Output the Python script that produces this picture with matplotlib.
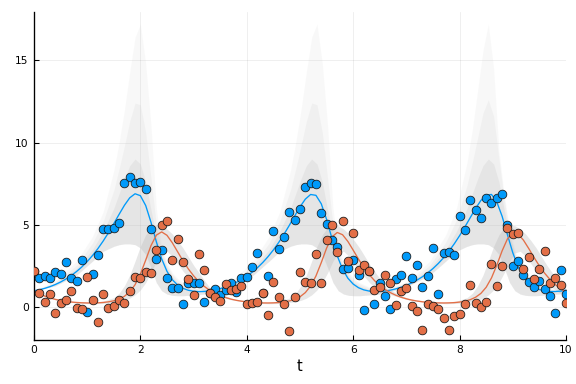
import numpy as np
import matplotlib
matplotlib.use("Agg")
import matplotlib.pyplot as plt

# observation times 0:0.1:10
t_obs = np.round(np.arange(101) * 0.1, 1)

# noisy observations (prey = blue, predator = orange)
prey_obs = [2.2, 1.75, 1.88, 1.79, 2.17, 2.04, 2.77, 1.79, 1.57, 2.89,
            -0.30, 2.0, 3.2, 4.75, 4.75, 4.79, 5.1, 7.53, 7.89, 7.57,
            7.63, 7.18, 4.77, 2.93, 3.48, 1.79, 1.19, 1.19, 0.21, 1.46,
            1.45, 1.50, 0.32, 0.85, 1.1, 0.75, 1.05, 1.46, 0.95, 1.78,
            1.86, 2.43, 3.28, 0.89, 1.88, 4.65, 3.56, 4.25, 5.79, 5.30,
            5.99, 7.32, 7.57, 7.48, 5.71, 5.04, 4.09, 3.65, 2.31, 2.37,
            2.85, 1.97, -0.16, 2.22, 0.21, 1.50, 0.71, -0.08, 1.70, 1.96,
            3.13, 1.78, 2.59, 1.25, 1.90, 3.62, 0.81, 3.32, 3.35, 3.19,
            5.56, 4.71, 6.52, 5.91, 5.42, 6.62, 6.31, 6.63, 6.86, 5.0,
            2.53, 2.83, 1.94, 1.56, 1.21, 1.61, 1.11, 0.71, -0.37, 2.26,
            0.79]
pred_obs = [2.20, 0.85, 0.30, 0.81, -0.36, 0.28, 0.45, 0.96, -0.02, -0.10,
            1.85, 0.45, -0.91, 0.79, -0.02, 0.08, 0.45, 0.24, 0.97, 1.85,
            1.75, 2.11, 2.06, 3.48, 5.0, 5.26, 2.84, 4.16, 2.72, 1.69,
            0.73, 3.24, 2.24, 0.85, 0.61, 0.38, 1.41, 1.05, 1.09, 1.29,
            0.17, 0.24, 0.31, 0.89, -0.48, 1.53, 0.65, 0.18, -1.42, 0.65,
            2.16, 1.51, 1.45, 3.25, 1.46, 4.07, 4.98, 3.34, 5.24, 2.83,
            4.51, 2.26, 2.55, 2.22, 1.05, 1.21, 1.94, 1.46, 0.12, 0.97,
            1.19, 0.08, -0.20, -1.36, 0.20, 0.08, -0.12, -0.63, -1.40, -0.51,
            -0.39, 0.20, 1.35, 0.24, 0.02, 0.30, 2.65, 1.29, 2.53, 4.83,
            4.45, 4.49, 2.30, 3.03, 1.70, 2.30, 3.44, 1.50, 1.80, 1.33,
            0.24]

# simulated trajectories
prey_true = [1.000, 1.061, 1.144, 1.249, 1.378, 1.531, 1.712, 1.924, 2.169, 2.450,
             2.773, 3.140, 3.554, 4.017, 4.526, 5.074, 5.642, 6.190, 6.646, 6.892,
             6.775, 6.176, 5.152, 3.975, 2.940, 2.178, 1.671, 1.348, 1.149, 1.032,
             0.971, 0.949, 0.958, 0.992,
             1.050, 1.129, 1.230, 1.355, 1.503, 1.679, 1.886, 2.125, 2.399, 2.715,
             3.074, 3.479, 3.934, 4.434, 4.975, 5.540, 6.091, 6.564, 6.848, 6.796,
             6.284, 5.336, 4.187, 3.126, 2.315, 1.762, 1.406, 1.185, 1.053, 0.982,
             0.953, 0.956, 0.986,
             1.039, 1.114, 1.211, 1.332, 1.476, 1.647, 1.848, 2.081, 2.349, 2.657,
             3.008, 3.405, 3.850, 4.343, 4.877, 5.438, 5.993, 6.482, 6.803, 6.850,
             6.392, 5.521, 4.399, 3.313, 2.452, 1.854, 1.464, 1.221, 1.074, 0.993,
             0.957, 0.955, 0.980, 1.028]
pred_true = [1.000, 0.821, 0.679, 0.567, 0.479, 0.410, 0.357, 0.317, 0.288, 0.269,
             0.259, 0.258, 0.267, 0.288, 0.327, 0.392, 0.496, 0.664, 0.936, 1.368,
             2.014, 2.862, 3.746, 4.380, 4.575, 4.368, 3.915, 3.369, 2.825, 2.333,
             1.910, 1.557, 1.268, 1.036,
             0.853, 0.705, 0.587, 0.495, 0.422, 0.367, 0.324, 0.293, 0.272, 0.261,
             0.258, 0.265, 0.284, 0.320, 0.380, 0.477, 0.634, 0.887, 1.290, 1.898,
             2.709, 3.587, 4.266, 4.540, 4.405, 3.997, 3.467, 2.923, 2.422, 1.986,
             1.621, 1.320, 1.078,
             0.885, 0.730, 0.607, 0.511, 0.435, 0.376, 0.331, 0.298, 0.276, 0.263,
             0.258, 0.264, 0.280, 0.313, 0.369, 0.459, 0.604, 0.838, 1.212, 1.781,
             2.557, 3.428, 4.152, 4.505, 4.443, 4.078, 3.566, 3.021, 2.510, 2.062,
             1.684, 1.372, 1.120, 0.917]

# spread of the posterior sample trajectories (grey fan)
band_t = [0.0, 0.4, 0.8, 1.1, 1.3, 1.5, 1.6, 1.7, 1.8, 1.9, 2.0, 2.1, 2.2, 2.3, 2.4, 2.5, 2.6, 2.7, 2.8, 3.0, 3.2,
          3.32, 3.72, 4.12, 4.42, 4.62, 4.82, 4.92, 5.02, 5.12, 5.22, 5.32, 5.42, 5.52, 5.62, 5.72, 5.82, 5.92, 6.02, 6.12, 6.32, 6.52,
          6.64, 7.04, 7.44, 7.74, 7.94, 8.14, 8.24, 8.34, 8.44, 8.54, 8.64, 8.74, 8.84, 8.94, 9.04, 9.14, 9.24, 9.34, 9.44, 9.64, 9.84, 10.0]
prey_lo = [1.00, 1.30, 1.95, 2.80, 3.40, 3.70, 3.80, 3.85, 3.85, 3.80, 3.60, 3.20, 2.40, 1.50, 1.00, 0.80, 0.72, 0.70, 0.70, 0.75, 0.80,
           0.88, 1.30, 1.95, 2.80, 3.40, 3.70, 3.80, 3.85, 3.85, 3.80, 3.60, 3.20, 2.40, 1.50, 1.00, 0.80, 0.72, 0.70, 0.70, 0.75, 0.80,
           0.88, 1.30, 1.95, 2.80, 3.40, 3.70, 3.80, 3.85, 3.85, 3.80, 3.60, 3.20, 2.40, 1.50, 1.00, 0.80, 0.72, 0.70, 0.70, 0.75, 0.80, 0.85]
prey_mid = [1.00, 1.45, 2.35, 3.50, 4.60, 6.00, 6.90, 7.80, 8.60, 9.00, 8.70, 7.60, 5.90, 4.30, 3.20, 2.40, 1.85, 1.50, 1.30, 1.05, 0.98,
            1.02, 1.45, 2.35, 3.50, 4.60, 6.00, 6.90, 7.80, 8.60, 9.00, 8.70, 7.60, 5.90, 4.30, 3.20, 2.40, 1.85, 1.50, 1.30, 1.05, 0.98,
            1.02, 1.45, 2.35, 3.50, 4.60, 6.00, 6.90, 7.80, 8.60, 9.00, 8.70, 7.60, 5.90, 4.30, 3.20, 2.40, 1.85, 1.50, 1.30, 1.05, 0.98, 1.05]
prey_q = [1.00, 1.52, 2.55, 3.90, 5.20, 7.10, 8.40, 9.80, 11.3, 12.4, 12.3, 10.6, 7.80, 5.00, 3.40, 2.55, 2.00, 1.65, 1.42, 1.15, 1.05,
          1.10, 1.52, 2.55, 3.90, 5.20, 7.10, 8.40, 9.80, 11.3, 12.4, 12.3, 10.6, 7.80, 5.00, 3.40, 2.55, 2.00, 1.65, 1.42, 1.15, 1.05,
          1.10, 1.52, 2.55, 3.95, 5.30, 7.40, 8.80, 10.3, 11.8, 12.6, 11.6, 9.00, 6.50, 4.50, 3.30, 2.55, 2.00, 1.65, 1.42, 1.15, 1.05, 1.15]
prey_hi = [1.00, 1.60, 2.80, 4.30, 5.80, 8.30, 10.0, 12.0, 14.3, 16.4, 17.2, 14.8, 11.0, 6.00, 3.60, 2.70, 2.10, 1.75, 1.50, 1.20, 1.10,
           1.15, 1.60, 2.80, 4.30, 5.80, 8.30, 10.0, 12.0, 14.3, 16.4, 17.2, 14.8, 11.0, 6.00, 3.60, 2.70, 2.10, 1.75, 1.50, 1.20, 1.10,
           1.15, 1.60, 2.80, 4.40, 6.00, 8.80, 10.8, 13.2, 15.6, 17.2, 14.5, 9.50, 6.80, 4.80, 3.50, 2.60, 2.05, 1.70, 1.50, 1.20, 1.10, 1.25]
pred_lo = [1.00, 0.44, 0.25, 0.21, 0.23, 0.29, 0.34, 0.42, 0.55, 0.75, 1.05, 1.50, 2.10, 2.80, 3.30, 3.40, 3.10, 2.65, 2.20, 1.45, 0.95,
           0.82, 0.44, 0.25, 0.21, 0.23, 0.29, 0.34, 0.42, 0.55, 0.75, 1.05, 1.50, 2.10, 2.80, 3.30, 3.40, 3.10, 2.65, 2.20, 1.45, 0.95,
           0.82, 0.44, 0.25, 0.21, 0.23, 0.29, 0.34, 0.42, 0.55, 0.75, 1.05, 1.50, 2.10, 2.80, 3.30, 3.40, 3.10, 2.65, 2.20, 1.45, 0.95, 0.72]
pred_hi = [1.00, 0.52, 0.33, 0.31, 0.37, 0.58, 0.85, 1.30, 1.95, 2.80, 3.70, 4.40, 4.85, 5.00, 4.95, 4.75, 4.45, 4.05, 3.60, 2.55, 1.65,
           1.12, 0.52, 0.33, 0.31, 0.37, 0.58, 0.85, 1.30, 1.95, 2.80, 3.70, 4.40, 4.85, 5.00, 4.95, 4.75, 4.45, 4.05, 3.60, 2.55, 1.65,
           1.12, 0.52, 0.33, 0.31, 0.37, 0.58, 0.85, 1.30, 1.95, 2.80, 3.70, 4.40, 4.85, 5.00, 4.95, 4.75, 4.45, 4.05, 3.60, 2.55, 1.65, 1.10]

BLUE = "#009AFA"
ORANGE = "#E36F47"
GREY = "#BBBBBB"

fig = plt.figure(figsize=(6, 4), dpi=96)
ax = fig.add_axes([0.059, 0.1146, 0.9236, 0.8541])

# grey fan of sample trajectories
ax.fill_between(band_t, prey_lo, prey_hi, color=GREY, alpha=0.09, lw=0)
ax.fill_between(band_t, prey_lo, prey_q, color=GREY, alpha=0.12, lw=0)
ax.fill_between(band_t, prey_lo, prey_mid, color=GREY, alpha=0.2, lw=0)
ax.fill_between(band_t, pred_lo, pred_hi, color=GREY, alpha=0.35, lw=0)

ax.plot(t_obs, prey_true, color=BLUE, lw=1.0, zorder=2)
ax.plot(t_obs, pred_true, color=ORANGE, lw=1.0, zorder=2)

ax.scatter(t_obs, prey_obs, s=42, c=BLUE, edgecolors="#1a1a1a", linewidths=0.6, zorder=3)
ax.scatter(t_obs, pred_obs, s=42, c=ORANGE, edgecolors="#1a1a1a", linewidths=0.6, zorder=4)

ax.set_xlim(0, 10)
ax.set_ylim(-1.99, 17.93)
ax.set_xticks([0, 2, 4, 6, 8, 10])
ax.set_yticks([0, 5, 10, 15])
ax.grid(True, color="black", alpha=0.08, lw=0.6)
ax.set_axisbelow(True)
for s in ("top", "right"):
    ax.spines[s].set_visible(False)
ax.spines["left"].set_linewidth(1.0)
ax.spines["bottom"].set_linewidth(1.0)
ax.tick_params(direction="in", length=4, width=0.8, labelsize=8, pad=4)
ax.set_xlabel("t", fontsize=11, labelpad=3)

fig.savefig("out.png", dpi=96)
